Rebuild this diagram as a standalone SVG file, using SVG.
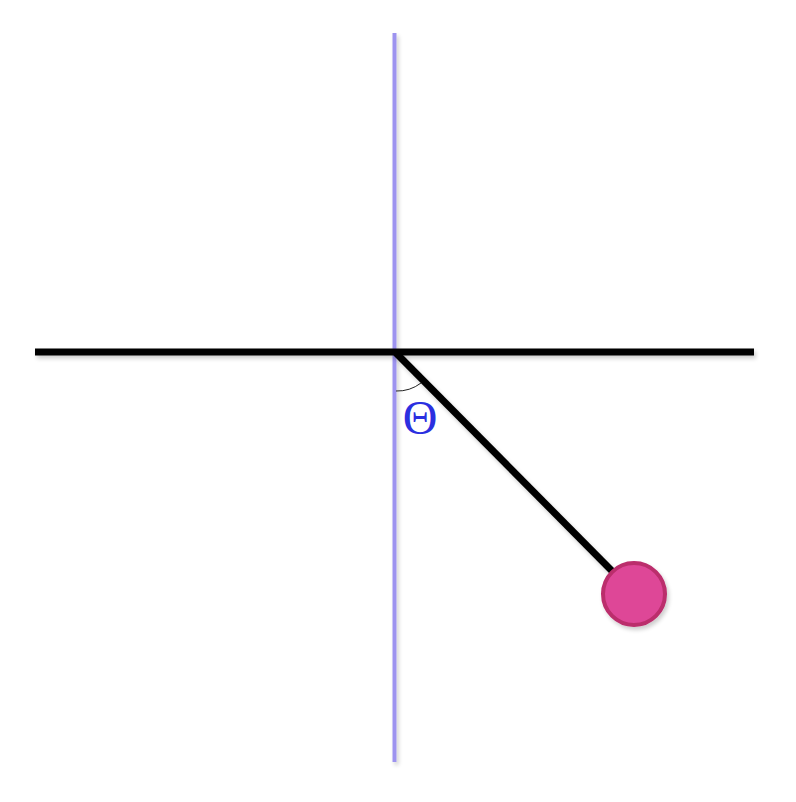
<svg xmlns="http://www.w3.org/2000/svg" width="796" height="802" viewBox="0 0 796 802">
<defs>
<filter id="sh" filterUnits="userSpaceOnUse" x="0" y="0" width="796" height="802">
<feGaussianBlur in="SourceAlpha" stdDeviation="2"/>
<feOffset dx="2" dy="3" result="b"/>
<feComponentTransfer><feFuncA type="linear" slope="0.2"/></feComponentTransfer>
<feMerge><feMergeNode/><feMergeNode in="SourceGraphic"/></feMerge>
</filter>
</defs>
<style>
.axis{stroke:#000;stroke-width:7;}
.vert{stroke:#9d93ef;stroke-width:4;}
.rod{stroke:#000;stroke-width:7;}
.bob{fill:#de4797;stroke:#bb2d6c;stroke-width:4;}
.lbl{font-family:"Liberation Serif",serif;font-size:48px;fill:#2b2fe0;stroke:#fff;stroke-width:2;paint-order:stroke;}
</style>
<rect width="796" height="802" fill="#fff"/>
<g id="connectors">
<line class="vert" x1="394.5" y1="33" x2="394.5" y2="762" filter="url(#sh)"/>
<line class="axis" x1="35" y1="352" x2="754" y2="352" filter="url(#sh)"/>
<line class="rod" x1="396" y1="353" x2="614" y2="573" filter="url(#sh)"/>
<path d="M396,391 A39,39 0 0 0 421,383" fill="none" stroke="#222" stroke-width="1"/>
</g>
<g id="bob">
<circle class="bob" cx="634" cy="594" r="31" filter="url(#sh)"/>
</g>
<g id="label">
<text class="lbl" x="420" y="434" text-anchor="middle">Θ</text>
</g>
</svg>
